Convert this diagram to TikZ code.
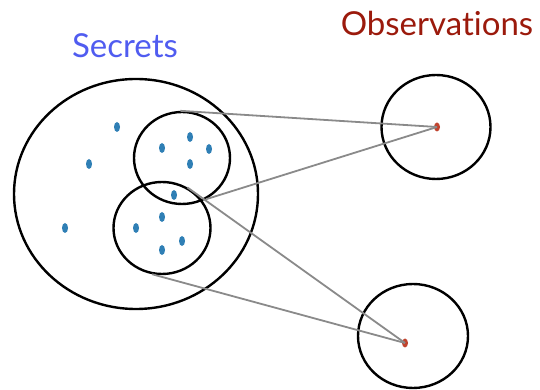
\documentclass[tikz,border=0pt]{standalone}
\usepackage{fontspec}
\setmainfont{Lato}[Ligatures=NoCommon]
\usepackage{xcolor}
\usetikzlibrary{shapes.geometric}
\definecolor{secretblue}{RGB}{80,92,240}
\definecolor{obsred}{RGB}{155,26,12}
\definecolor{dotblue}{RGB}{47,127,181}
\definecolor{dotred}{RGB}{192,67,46}
\definecolor{linkgray}{RGB}{138,138,138}

\begin{document}
\begin{tikzpicture}[
  x=1pt,y=1pt,
  set/.style={ellipse,draw=black,line width=2.4pt,inner sep=0pt},
  secret/.style={ellipse,fill=dotblue,inner sep=0pt,minimum width=6pt,minimum height=10pt},
  obs/.style={ellipse,fill=dotred,inner sep=0pt,minimum width=6pt,minimum height=9pt},
  link/.style={draw=linkgray,line width=1.8pt},
  title/.style={anchor=base,font=\fontsize{33}{36}\selectfont}
]
  \useasboundingbox (0,0) rectangle (540,390);

  \node[title,text=secretblue] (secrets) at (125,332) {Secrets};
  \node[title,text=obsred] (observations) at (437,354) {Observations};

  \node[set,minimum width=244pt,minimum height=230pt] (all) at (136,196) {};
  \node[set,minimum width=96pt,minimum height=92pt] (upper) at (182,232) {};
  \node[set,minimum width=97pt,minimum height=92pt] (lower) at (162,162) {};
  \node[set,minimum width=109pt,minimum height=104pt] (obsA) at (436,263) {};
  \node[set,minimum width=110pt,minimum height=104pt] (obsB) at (413,54) {};

  \foreach \px/\py [count=\i] in {117/263,89/226,65/162,162/242,190/253,209/241,
      190/226,174/195,162/173,136/162,182/149,162/140}
    \node[secret] (s\i) at (\px,\py) {};

  \node[obs] (oA) at (437,263) {};
  \node[obs] (oB) at (405,47) {};

  \draw[link] (upper.92) -- (oA.center);
  \draw[link] (upper.-60) -- (oA.center);
  \draw[link] (lower.58) -- (oB.center);
  \draw[link] (lower.-102) -- (oB.center);
\end{tikzpicture}
\end{document}
